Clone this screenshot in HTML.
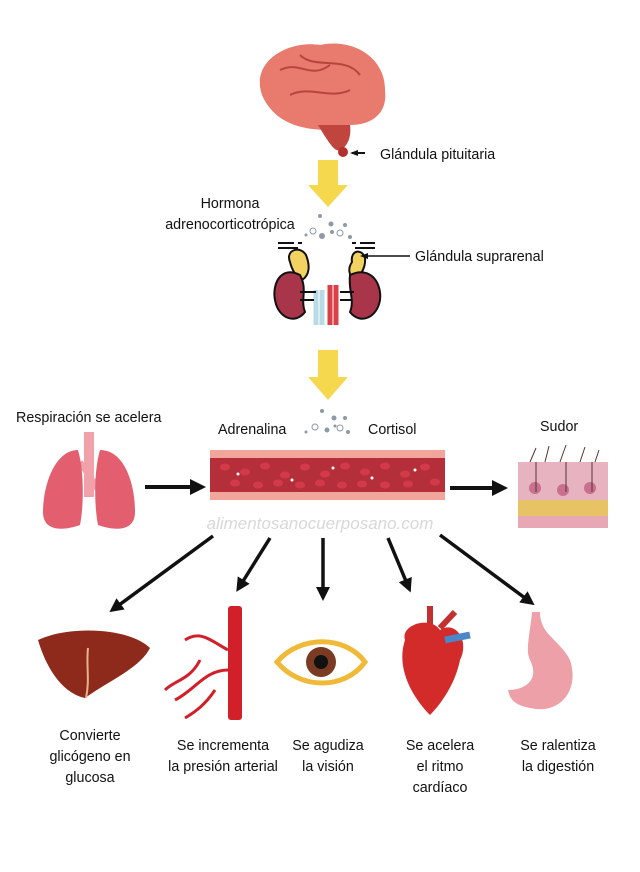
<!DOCTYPE html>
<html><head><meta charset="utf-8"><style>
body{margin:0;background:#fff}
svg{display:block}
text{font-family:"Liberation Sans",sans-serif;font-size:14.3px;fill:#111}
</style></head><body>
<svg width="640" height="872" viewBox="0 0 640 872">
<defs>
<marker id="ah" markerWidth="4" markerHeight="4" refX="2" refY="2" orient="auto" markerUnits="strokeWidth"><path d="M0,0 L4,2 L0,4 z" fill="#111"/></marker>
<marker id="as" markerWidth="8" markerHeight="6" refX="6" refY="3" orient="auto" markerUnits="userSpaceOnUse"><path d="M0,0 L8,3 L0,6 z" fill="#111"/></marker>
</defs>
<!-- brain -->
<path d="M262,95 C250,60 290,40 320,45 C350,38 385,55 385,90 C388,115 370,125 350,125 L330,130 C305,130 275,125 262,95z" fill="#e87a6e"/>
<path d="M318,125 L350,125 C352,140 345,148 340,150 C335,152 330,145 318,125z" fill="#c0453e"/>
<circle cx="343" cy="152" r="5" fill="#b2302c"/>
<path d="M280,70 C300,60 310,80 330,65 M290,95 C310,85 330,100 350,90 M300,55 C315,70 345,55 360,75" stroke="#b9443c" stroke-width="2" fill="none"/>
<line x1="365" y1="153" x2="352" y2="153" stroke="#111" stroke-width="2" marker-end="url(#as)"/>
<text x="380" y="159">Glándula pituitaria</text>
<!-- yellow arrow 1 -->
<path d="M318,160 H338 V185 H348 L328,207 L308,185 H318z" fill="#f6d84e"/>
<text x="230" y="208" text-anchor="middle">Hormona</text>
<text x="230" y="229" text-anchor="middle">adrenocorticotrópica</text>
<g fill="#8e98a6"><circle cx="320" cy="216" r="2"/><circle cx="331" cy="224" r="2.5"/><circle cx="345" cy="225" r="2"/><circle cx="322" cy="236" r="3"/><circle cx="332" cy="232" r="2"/><circle cx="350" cy="237" r="2"/><circle cx="306" cy="235" r="1.5"/></g>
<g fill="none" stroke="#8e98a6"><circle cx="313" cy="231" r="3"/><circle cx="340" cy="233" r="3"/></g>
<!-- kidneys -->
<path d="M278,243 h16 M298,243 h4 M278,248 h20 M352,243 h4 M360,243 h15 M355,248 h20" stroke="#111" stroke-width="2"/>
<path d="M290,262 C285,250 300,245 306,255 C310,265 310,275 302,280 C295,275 292,270 290,262z" fill="#f2d260" stroke="#111" stroke-width="2"/>
<path d="M352,262 C350,250 362,248 365,258 C366,268 360,276 355,280 C348,275 348,268 352,262z" fill="#f2d260" stroke="#111" stroke-width="2"/>
<path d="M300,275 C280,265 272,285 275,300 C278,318 295,325 305,312 C300,300 308,290 300,275z" fill="#a8354a" stroke="#111" stroke-width="2"/>
<path d="M350,275 C372,265 382,285 380,300 C377,318 360,325 350,312 C355,300 348,290 350,275z" fill="#a8354a" stroke="#111" stroke-width="2"/>
<path d="M316,290 V325 M322,290 V325" stroke="#b8dbe6" stroke-width="5"/>
<path d="M330,285 V325 M336,285 V325" stroke="#d94048" stroke-width="5"/>
<path d="M300,292 h16 M300,300 h14 M340,292 h14 M340,300 h12" stroke="#111" stroke-width="2"/>
<line x1="410" y1="256" x2="362" y2="256" stroke="#111" stroke-width="1.5" marker-end="url(#as)"/>
<text x="415" y="261">Glándula suprarenal</text>
<!-- yellow arrow 2 -->
<path d="M318,350 H338 V377 H348 L328,400 L308,377 H318z" fill="#f6d84e"/>
<text x="16" y="422">Respiración se acelera</text>
<text x="218" y="434">Adrenalina</text>
<text x="368" y="434">Cortisol</text>
<text x="540" y="431">Sudor</text>
<g fill="#8e98a6"><circle cx="322" cy="411" r="2"/><circle cx="334" cy="418" r="2.5"/><circle cx="345" cy="418" r="2"/><circle cx="327" cy="430" r="2.5"/><circle cx="335" cy="426" r="1.5"/><circle cx="348" cy="432" r="2"/><circle cx="306" cy="432" r="1.5"/></g>
<g fill="none" stroke="#8e98a6"><circle cx="315" cy="427" r="3"/><circle cx="340" cy="428" r="3"/></g>
<!-- lungs -->
<path d="M84,432 h10 v65 h-10z" fill="#f0a1a9"/>
<path d="M80,462 L95,485 L108,462" stroke="#f0a1a9" stroke-width="6" fill="none"/>
<path d="M78,450 C55,450 43,485 43,512 C43,530 60,532 80,525 C84,505 84,470 78,450z" fill="#e35f70"/>
<path d="M100,450 C125,450 135,485 135,512 C135,530 118,532 98,525 C94,505 94,470 100,450z" fill="#e35f70"/>
<line x1="145" y1="487" x2="198" y2="487" stroke="#111" stroke-width="4" marker-end="url(#ah)"/>
<!-- vessel -->
<rect x="210" y="450" width="235" height="50" fill="#f2a59a"/>
<rect x="210" y="458" width="235" height="34" fill="#b52f3a"/>
<g fill="#d23a4a">
<ellipse cx="225" cy="467" rx="5" ry="3.5"/><ellipse cx="245" cy="472" rx="5" ry="3.5"/><ellipse cx="265" cy="466" rx="5" ry="3.5"/><ellipse cx="285" cy="475" rx="5" ry="3.5"/><ellipse cx="305" cy="467" rx="5" ry="3.5"/><ellipse cx="325" cy="474" rx="5" ry="3.5"/><ellipse cx="345" cy="466" rx="5" ry="3.5"/><ellipse cx="365" cy="472" rx="5" ry="3.5"/><ellipse cx="385" cy="466" rx="5" ry="3.5"/><ellipse cx="405" cy="474" rx="5" ry="3.5"/><ellipse cx="425" cy="467" rx="5" ry="3.5"/><ellipse cx="435" cy="482" rx="5" ry="3.5"/>
<ellipse cx="235" cy="483" rx="5" ry="3.5"/><ellipse cx="258" cy="485" rx="5" ry="3.5"/><ellipse cx="278" cy="483" rx="5" ry="3.5"/><ellipse cx="300" cy="485" rx="5" ry="3.5"/><ellipse cx="320" cy="483" rx="5" ry="3.5"/><ellipse cx="342" cy="485" rx="5" ry="3.5"/><ellipse cx="362" cy="484" rx="5" ry="3.5"/><ellipse cx="385" cy="485" rx="5" ry="3.5"/><ellipse cx="408" cy="484" rx="5" ry="3.5"/></g>
<g fill="#fff"><circle cx="238" cy="474" r="1.5"/><circle cx="292" cy="480" r="1.5"/><circle cx="333" cy="468" r="1.5"/><circle cx="372" cy="478" r="1.5"/><circle cx="415" cy="470" r="1.5"/></g>
<line x1="450" y1="488" x2="500" y2="488" stroke="#111" stroke-width="4" marker-end="url(#ah)"/>
<!-- skin -->
<rect x="518" y="462" width="90" height="66" fill="#e7b3c0"/>
<rect x="518" y="500" width="90" height="16" fill="#e8c366"/>
<rect x="518" y="516" width="90" height="12" fill="#e7a7b5"/>
<g fill="#c8708e"><circle cx="535" cy="488" r="6"/><circle cx="563" cy="490" r="6"/><circle cx="590" cy="488" r="6"/></g>
<path d="M530,462 l6,-14 M545,462 l4,-16 M560,462 l6,-17 M580,462 l5,-15 M595,462 l4,-12 M536,462 v30 M566,462 v30 M592,462 v30" stroke="#533" stroke-width="1"/>
<text x="320" y="529" text-anchor="middle" style="font-size:17px;font-style:italic;fill:#d8d8d8">alimentosanocuerposano.com</text>
<!-- arrows down -->
<g stroke="#111" stroke-width="3.5" marker-end="url(#ah)">
<line x1="213" y1="536" x2="115" y2="608"/>
<line x1="270" y1="538" x2="240" y2="586"/>
<line x1="323" y1="538" x2="323" y2="594"/>
<line x1="388" y1="538" x2="408" y2="586"/>
<line x1="440" y1="535" x2="529" y2="601"/>
</g>
<!-- liver -->
<path d="M38,640 C70,625 130,628 150,648 C140,668 110,680 85,698 C70,695 50,680 38,640z" fill="#8e2a1c"/>
<path d="M88,648 C86,665 90,680 86,698" stroke="#e8b28a" stroke-width="2" fill="none"/>
<!-- artery -->
<rect x="228" y="606" width="14" height="114" rx="3" fill="#d2202a"/>
<path d="M228,650 C210,640 200,630 185,640 M228,670 C205,670 195,690 175,700 M200,660 C190,680 175,680 165,690 M215,690 C205,705 195,712 185,718" stroke="#d2202a" stroke-width="3" fill="none"/>
<!-- eye -->
<path d="M277,662 C300,635 345,635 365,662 C345,690 300,690 277,662z" fill="#fff" stroke="#f0b938" stroke-width="5"/>
<circle cx="321" cy="662" r="15" fill="#7a3b22"/><circle cx="321" cy="662" r="7" fill="#111"/>
<!-- heart -->
<path d="M405,640 C400,625 430,615 440,630 C455,620 470,640 460,660 C455,685 440,705 430,715 C415,700 395,670 405,640z" fill="#d32a2a"/>
<path d="M430,625 V606 M440,628 L455,612" stroke="#c23030" stroke-width="6"/>
<path d="M445,640 L470,635" stroke="#4a86c8" stroke-width="7"/>
<!-- stomach -->
<path d="M540,612 C540,635 560,640 570,660 C580,690 560,715 530,708 C515,705 510,700 508,690 C525,690 540,680 530,660 C525,650 530,635 532,612z" fill="#eea0a8"/>
<!-- labels -->
<g text-anchor="middle">
<text x="90" y="740">Convierte</text><text x="90" y="761">glicógeno en</text><text x="90" y="782">glucosa</text>
<text x="223" y="750">Se incrementa</text><text x="223" y="771">la presión arterial</text>
<text x="328" y="750">Se agudiza</text><text x="328" y="771">la visión</text>
<text x="440" y="750">Se acelera</text><text x="440" y="771">el ritmo</text><text x="440" y="792">cardíaco</text>
<text x="558" y="750">Se ralentiza</text><text x="558" y="771">la digestión</text>
</g>
</svg>
</body></html>
